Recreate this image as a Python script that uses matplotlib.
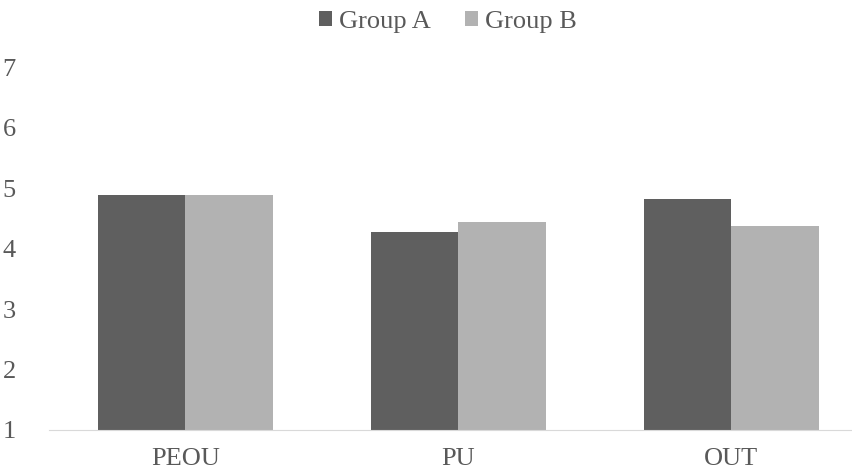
import numpy as np
import matplotlib.pyplot as plt

categories = ['PEOU', 'PU', 'OUT']
group_a = [4.88, 4.28, 4.81]
group_b = [4.88, 4.43, 4.37]

plt.rcParams['font.family'] = ['Liberation Serif', 'DejaVu Serif']

fig = plt.figure(figsize=(8.53, 4.72), dpi=100)
ax = fig.add_axes([49 / 853, 42 / 472, 819 / 853, 363 / 472])

x = np.arange(len(categories))
w = 0.322
ax.bar(x - w / 2, group_a, w, bottom=0, color='#5f5f5f', label='Group A')
ax.bar(x + w / 2, group_b, w, bottom=0, color='#b2b2b2', label='Group B')

ax.set_xlim(-0.5, 2.5)
ax.set_ylim(1, 7)
ax.set_yticks(range(1, 8))
ax.set_xticks(x)
ax.set_xticklabels(categories)
ax.tick_params(axis='both', length=0, labelsize=19, colors='#595959')
ax.tick_params(axis='y', pad=24)
ax.tick_params(axis='x', pad=13)
for s in ['top', 'right', 'left']:
    ax.spines[s].set_visible(False)
ax.spines['bottom'].set_color('#d9d9d9')

ax.legend(loc='center', bbox_to_anchor=(0.487, 1.124), ncol=2, frameon=False,
          fontsize=19, labelcolor='#595959', handlelength=0.5, handleheight=0.5,
          handletextpad=0.25, columnspacing=1.3, borderpad=0)

fig.savefig('out.png', dpi=100)
